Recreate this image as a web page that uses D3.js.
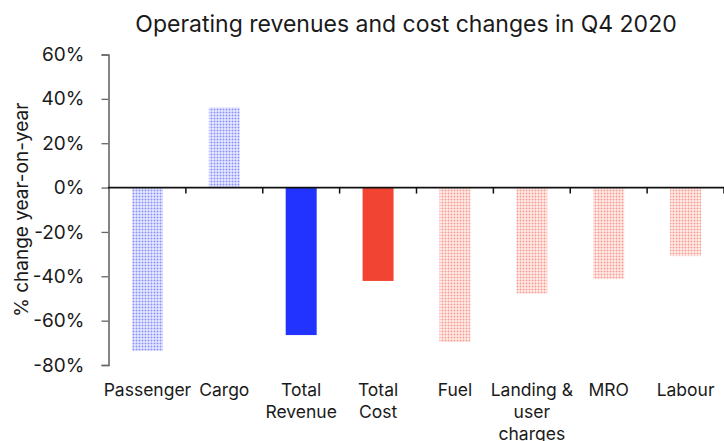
<!DOCTYPE html>
<html>
<head>
<meta charset="utf-8">
<script src="https://cdn.jsdelivr.net/npm/d3@7"></script>
<style>
  html, body { margin: 0; padding: 0; background: #fff; }
  svg { display: block; }
  text { font-family: Inter, "Liberation Sans", Arial, sans-serif; fill: #1a1a1a; }
</style>
</head>
<body>
<svg id="chart" width="724" height="441"></svg>
<script>
const categories = ["Passenger", "Cargo", "Total Revenue", "Total Cost", "Fuel", "Landing & user charges", "MRO", "Labour"];
const labelLines = [["Passenger"], ["Cargo"], ["Total", "Revenue"], ["Total", "Cost"], ["Fuel"], ["Landing &", "user", "charges"], ["MRO"], ["Labour"]];
const values = [-73.7, 36.1, -66.5, -42.1, -69.6, -47.8, -41.2, -30.9];
const styles = ["blueDots", "blueDots", "blueSolid", "redSolid", "redDots", "redDots", "redDots", "redDots"];
const yTicks = [60, 40, 20, 0, -20, -40, -60, -80];
const title = "Operating revenues and cost changes in Q4 2020";
const yLabel = "% change year-on-year";

const BLUE = "#2233ff", RED = "#f24432";
const svg = d3.select("#chart");

const defs = svg.append("defs");
function dots(id, color) {
  const p = defs.append("pattern").attr("id", id).attr("patternUnits", "userSpaceOnUse")
    .attr("width", 3).attr("height", 3);
  p.append("rect").attr("width", 3).attr("height", 3).attr("fill", "#fff");
  p.append("rect").attr("x", 0.5).attr("y", 0.5).attr("width", 2).attr("height", 2)
    .attr("fill", color).attr("fill-opacity", 0.55);
}
dots("blueDots", BLUE);
dots("redDots", RED);
const fills = { blueDots: "url(#blueDots)", redDots: "url(#redDots)", blueSolid: BLUE, redSolid: RED };

const x = d3.scaleBand().domain(categories).range([109, 724]).padding(0);
const y = d3.scaleLinear().domain([-80, 60]).range([365, 54.5]);
const barW = x.bandwidth() * 0.403;

// title
svg.append("text").attr("x", 406).attr("y", 32).attr("text-anchor", "middle")
  .style("font-size", "23px").text(title);

// y label
svg.append("text").attr("transform", `translate(28,${(y(60) + y(-80)) / 2}) rotate(-90)`)
  .attr("text-anchor", "middle").style("font-size", "19px").text(yLabel);

// bars
svg.append("g").selectAll("rect").data(categories).join("rect")
  .attr("x", (d) => x(d) + (x.bandwidth() - barW) / 2)
  .attr("width", barW)
  .attr("y", (d, i) => y(Math.max(0, values[i])))
  .attr("height", (d, i) => Math.abs(y(values[i]) - y(0)))
  .attr("fill", (d, i) => fills[styles[i]]);

// y axis
const yAxis = svg.append("g").attr("transform", "translate(108.5,0)")
  .call(d3.axisLeft(y).tickValues(yTicks).tickFormat((d) => d + "%").tickSize(7).tickPadding(17));
yAxis.select(".domain").attr("stroke", "#666").attr("stroke-width", 1.6);
yAxis.selectAll(".tick line").attr("stroke", "#666").attr("stroke-width", 1.3);
yAxis.selectAll(".tick text").style("font-size", "19px").attr("fill", "#1a1a1a")
  .style("font-family", "Inter, 'Liberation Sans', Arial, sans-serif");

// zero axis with category separators
const zeroY = y(0);
svg.append("line").attr("x1", 108).attr("x2", 724).attr("y1", zeroY).attr("y2", zeroY)
  .attr("stroke", "#111").attr("stroke-width", 1.8);
svg.append("g").selectAll("line").data(categories.slice(1).concat(["__end"])).join("line")
  .attr("x1", (d, i) => x.range()[0] + (i + 1) * x.step())
  .attr("x2", (d, i) => x.range()[0] + (i + 1) * x.step())
  .attr("y1", zeroY).attr("y2", zeroY + 6)
  .attr("stroke", "#111").attr("stroke-width", 1.5);

// category labels
const lab = svg.append("g").selectAll("text").data(categories).join("text")
  .attr("text-anchor", "middle")
  .attr("x", (d) => x(d) + x.bandwidth() / 2)
  .attr("y", 396)
  .style("font-size", "17.5px");
lab.each(function (d, i) {
  d3.select(this).selectAll("tspan").data(labelLines[i]).join("tspan")
    .attr("x", x(d) + x.bandwidth() / 2)
    .attr("dy", (t, j) => (j === 0 ? 0 : 22))
    .text((t) => t);
});
</script>
</body>
</html>
